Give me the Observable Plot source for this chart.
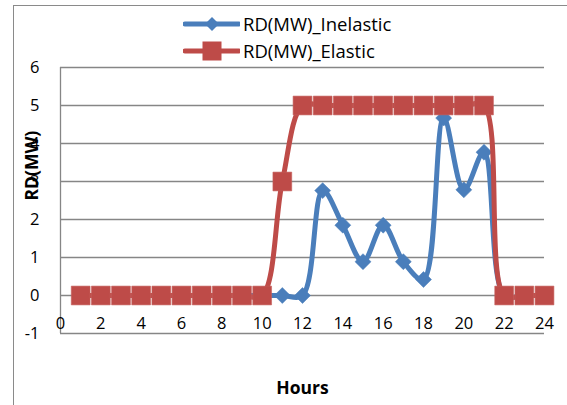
<!DOCTYPE html>
<html>
<head>
<meta charset="utf-8">
<script src="https://cdn.jsdelivr.net/npm/d3@7"></script>
<script src="https://cdn.jsdelivr.net/npm/@observablehq/plot@0.6"></script>
<style>
  html, body { margin: 0; padding: 0; background: #fff; }
  #wrap { position: relative; width: 567px; height: 405px; overflow: hidden; font-family: "Open Sans", sans-serif; }
  #frame { position: absolute; left: 13px; top: 5px; width: 700px; height: 600px;
           border-left: 1.5px solid #8a8a8a; border-top: 1.5px solid #8a8a8a; }
  #legend { position: absolute; left: 183px; top: 10px; font-size: 18.5px; color: #000; }
  #legend .row { display: flex; align-items: center; height: 27px; }
  #legend svg { display: block; margin-right: 3px; }
</style>
</head>
<body>
<div id="wrap">
  <div id="chart"></div>
  <div id="frame"></div>
  <div id="legend"></div>
</div>
<script>
const hours = [1,2,3,4,5,6,7,8,9,10,11,12,13,14,15,16,17,18,19,20,21,22,23,24];
const inelastic = [0,0,0,0,0,0,0,0,0,0,0,0,2.76,1.85,0.89,1.85,0.89,0.42,4.67,2.78,3.77,0,0,0];
const elastic = [0,0,0,0,0,0,0,0,0,0,3,5,5,5,5,5,5,5,5,5,5,0,0,0];
const seriesNames = ["RD(MW)_Inelastic", "RD(MW)_Elastic"];
const xTicks = [0,2,4,6,8,10,12,14,16,18,20,22,24];
const yTicks = [-1,0,1,2,3,4,5,6];
const yTitle = "RD(MW)";
const xTitle = "Hours";

const blue = "#4A7EBB";
const red = "#BE4B48";

const inel = hours.map((h, i) => ({hour: h, value: inelastic[i]}));
const elas = hours.map((h, i) => ({hour: h, value: elastic[i]}));

const chart = Plot.plot({
  width: 567,
  height: 405,
  marginLeft: 60,
  marginRight: 23,
  marginTop: 67,
  marginBottom: 72,
  style: {background: "transparent", fontFamily: "Open Sans, sans-serif", color: "#000"},
  x: {domain: [0, 24], axis: null},
  y: {domain: [-1, 6], axis: null},
  marks: [
    Plot.gridY(yTicks, {stroke: "#868686", strokeOpacity: 1, strokeWidth: 1.3}),
    Plot.ruleX([0], {stroke: "#868686", strokeWidth: 1.3}),
    Plot.axisY(yTicks, {label: null, tickSize: 0, tickPadding: 21, fontSize: 16.5, tickFormat: d => d < 0 ? "-" + Math.abs(d) : String(d)}),
    Plot.text(xTicks, {x: d => d, y: () => 0, dy: 28, fontSize: 16.5, fill: "#000"}),
    Plot.text([yTitle], {frameAnchor: "left", dx: -28, rotate: -90, fontWeight: "bold", fontSize: 17.5, fill: "#000"}),
    Plot.text([xTitle], {frameAnchor: "bottom", dy: 60, fontWeight: "bold", fontSize: 17.5, fill: "#000"}),
    Plot.line(inel, {x: "hour", y: "value", stroke: blue, strokeWidth: 5, curve: "catmull-rom"}),
    Plot.dot(inel, {x: "hour", y: "value", symbol: "diamond2", r: 7.2, fill: blue, stroke: blue, strokeWidth: 0.5}),
    Plot.line(elas, {x: "hour", y: "value", stroke: red, strokeWidth: 5, curve: "catmull-rom"}),
    Plot.dot(elas, {x: "hour", y: "value", symbol: "square", r: 10.6, fill: red, stroke: "#c4605d", strokeWidth: 0.6})
  ]
});
document.getElementById("chart").appendChild(chart);

// legend
const legend = document.getElementById("legend");
const legendColors = [blue, red];
const legendShapes = ["diamond", "square"];
seriesNames.forEach((name, i) => {
  const row = document.createElement("div");
  row.className = "row";
  const c = legendColors[i];
  let marker;
  if (legendShapes[i] === "diamond") {
    marker = `<path d="M29,8 L36,15 L29,22 L22,15 Z" fill="${c}"/>`;
  } else {
    marker = `<rect x="19.5" y="5.5" width="19" height="19" fill="${c}"/>`;
  }
  row.innerHTML = `<svg width="57" height="30"><line x1="2" y1="15" x2="56" y2="15" stroke="${c}" stroke-width="5" stroke-linecap="round"/>${marker}</svg><span>${name}</span>`;
  legend.appendChild(row);
});
</script>
</body>
</html>
